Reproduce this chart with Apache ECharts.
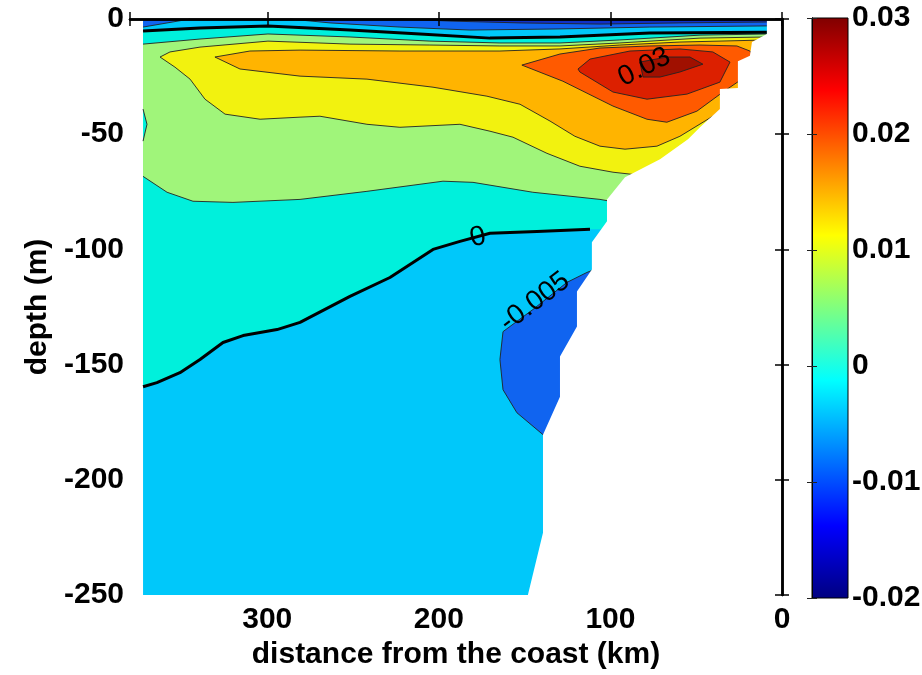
<!DOCTYPE html>
<html><head><meta charset="utf-8">
<script src="https://cdn.jsdelivr.net/npm/echarts@6/dist/echarts.min.js"></script>
<style>html,body{margin:0;padding:0;background:#fff}#c{width:922px;height:675px}</style>
</head><body><div id="c"></div>
<script>
// ---- tick labels ----
const xTicks = [0, 100, 200, 300];
const yTicks = [0, -50, -100, -150, -200, -250];
const cbTicks = [-0.02, -0.01, 0, 0.01, 0.02, 0.03];

// ---- section geometry: [distance from coast (km), depth (m)] ----
const westEdge = 372.4;
const shelf = [[8.8,0],[8.8,-6.5],[17.5,-10],[18.7,-16],[25.7,-18.3],[25.7,-30],[36.2,-30.4],[36.2,-39.1],[47.8,-47],[54.8,-52.2],[71.1,-60.9],[91.5,-68.7],[102,-78.3],[102,-87.8],[110.8,-96.9],[110.8,-108.7],[119.5,-118.3],[119.5,-133.5],[129.4,-146.5],[129.4,-163.9],[139.3,-180.4],[139.3,-223],[148.1,-250]];

// ---- contour lines ----
const zeroSurface = [[372.4,-5.2],[339.2,-3.9],[299.6,-3.0],[251.8,-4.8],[211.0,-6.5],[170.2,-8.3],[129.4,-7.8],[77.0,-6.1],[8.8,-5.7]];
const zeroDeep = [[372.4,-159.6],[364.3,-157.8],[350.9,-153.5],[339.2,-147.8],[325.8,-140.4],[314.1,-137.4],[294.3,-134.8],[280.9,-131.7],[251.8,-120.4],[228.5,-112.2],[203.4,-100.0],[187.7,-96.5],[170.2,-93.0],[142.8,-92.2],[111.9,-91.3]];
const p005Upper = [[372.4,-10.9],[339.2,-8.7],[299.6,-6.5],[251.8,-7.8],[205.2,-9.6],[164.4,-10.4],[129.4,-10.4],[94.5,-9.1],[47.8,-7.0],[8.8,-6.5]];
const p005Lower = [[372.4,-68.3],[358.4,-75.2],[343.3,-79.1],[320.0,-79.6],[280.9,-78.3],[241.9,-74.8],[197.6,-70.4],[180.1,-70.9],[145.2,-75.2],[106.1,-78.3],[100.0,-79.1]];
const p005Patch = [[372.4,-39.1],[370.1,-45.7],[372.4,-53.0]];
const p010Upper = [[362.5,-16.5],[356.7,-14.3],[339.2,-12.2],[299.6,-9.6],[251.8,-10.9],[205.2,-11.3],[164.4,-11.7],[129.4,-11.7],[94.5,-10.4],[47.8,-8.3],[8.8,-7.8]];
const p010Lower = [[362.5,-16.5],[353.8,-20.9],[345.0,-26.1],[336.3,-34.8],[324.6,-41.3],[304.2,-43.5],[280.9,-42.6],[269.3,-42.2],[241.9,-45.7],[222.7,-47.0],[187.7,-45.7],[170.2,-48.7],[156.8,-51.3],[137.0,-58.3],[117.8,-63.9],[98.5,-66.5],[82.8,-67.8]];
const p015Upper = [[330.5,-16.5],[310.1,-13.9],[280.9,-13.5],[222.7,-13.9],[164.4,-13.9],[129.4,-13.0],[94.5,-11.3],[59.5,-10.0],[8.8,-9.1]];
const p015Lower = [[330.5,-16.5],[315.9,-21.7],[280.9,-24.8],[241.9,-26.1],[203.4,-29.6],[172.0,-33.5],[152.7,-37.0],[135.2,-44.3],[120.7,-50.9],[106.1,-55.2],[91.5,-56.5],[72.9,-55.2],[59.5,-50.9],[40.3,-42.2],[27.4,-34.8]];
const p020Loop = [[151.6,-20.0],[129.4,-15.2],[106.1,-12.6],[77.0,-11.7],[47.8,-11.3],[26.3,-11.7],[18.7,-13.9],[12.9,-19.6],[21.6,-25.2],[34.4,-31.7],[49.6,-40.0],[67.1,-44.8],[78.7,-43.5],[98.5,-37.8],[127.7,-27.0]];
const p025Loop = [[118.9,-21.7],[111.9,-17.4],[88.6,-13.9],[59.5,-13.0],[40.3,-14.3],[30.3,-18.7],[36.2,-27.4],[55.4,-32.6],[78.7,-34.8],[98.5,-31.7],[117.8,-23.0]];
const p030Loop = [[82.8,-18.7],[67.1,-16.5],[53.7,-16.5],[46.1,-19.6],[59.5,-23.0],[71.1,-25.2],[81.0,-25.2]];
const m005SurfaceWest = [[372.4,-3.5],[345.0,0]];
const m005Surface = [[286.8,0],[263.4,-1.7],[222.7,-3.5],[181.9,-4.8],[129.4,-4.3],[77.0,-3.5],[8.8,-3.0]];
const m010Surface = [[222.7,0],[193.5,-0.9],[152.7,-1.7],[106.1,-2.2],[59.5,-1.7],[8.8,-1.3]];
const m005Deep = [[106.1,-107.8],[113.7,-110.0],[125.3,-114.3],[145.2,-126.1],[162.6,-135.7],[164.4,-147.8],[162.6,-160.9],[154.5,-170.9],[139.3,-180.4],[132.3,-184.8]];

// ---- contour labels: text, km, depth, angle(deg) ----
const labelText = ['0.03', '0', '-0.005'];
const labelKm = [80.2, 177.2, 144.0];
const labelDepth = [-20.9, -94.8, -122.8];
const labelAngle = [27, 14, 37];

// ---- band colours (filled with the colour of the lower level) ----
const COL = {
  m015: '#1030c8', m010: '#1064f0', m005: '#00c8fa', z0: '#00f0dc',
  p005: '#a0f57a', p010: '#f2f20f', p015: '#ffb400', p020: '#ff5a00',
  p025: '#dc2000', p030: '#a01000'
};

const last = a => a[a.length - 1];
const band = (up, lo) => up.concat([[0, last(up)[1]], [0, last(lo)[1]]], lo.slice().reverse());
const toTop = line => line.concat([[0, last(line)[1]], [0, 0]]);

const fills = [
  {pts: [[westEdge,0],[0,0],[0,-250],[westEdge,-250]], color: COL.m005},
  {pts: band(zeroSurface, zeroDeep), color: COL.z0},
  {pts: band(p005Upper, p005Lower), color: COL.p005},
  {pts: p005Patch, color: COL.z0},
  {pts: band(p010Upper, p010Lower), color: COL.p010},
  {pts: band(p015Upper, p015Lower), color: COL.p015},
  {pts: p020Loop, color: COL.p020},
  {pts: p025Loop, color: COL.p025},
  {pts: p030Loop, color: COL.p030},
  {pts: [[westEdge,0]].concat(m005SurfaceWest), color: COL.m010},
  {pts: toTop(m005Surface), color: COL.m010},
  {pts: m005Deep.concat([[0,last(m005Deep)[1]],[0,m005Deep[0][1]]]), color: COL.m010},
  {pts: toTop(m010Surface), color: COL.m015}
];
const thinLines = [p005Upper, p005Lower, p005Patch, p010Upper, p010Lower, p015Upper, p015Lower,
  p020Loop.concat([p020Loop[0]]), p025Loop.concat([p025Loop[0]]), p030Loop.concat([p030Loop[0]]),
  m005SurfaceWest, m005Surface, m010Surface, m005Deep];
const thickLines = [zeroSurface, zeroDeep];
const land = shelf.concat([[0,-250],[0,0]]);

const FONT = '"Liberation Sans", Arial, Helvetica, sans-serif';
const chart = echarts.init(document.getElementById('c'), null, {renderer: 'canvas'});

const boxAxis = {
  axisLine: {show: true, lineStyle: {color: '#000', width: 2.5}},
  axisTick: {show: true, inside: true, length: 7, lineStyle: {color: '#000', width: 1.5}},
  splitLine: {show: false}, z: 10
};

chart.setOption({
  animation: false,
  backgroundColor: '#fff',
  grid: [
    {left: 130, right: 140, top: 19, bottom: 80, containLabel: false, outerBoundsMode: 'none'},
    {left: 812, right: 74, top: 18, bottom: 77, containLabel: false, outerBoundsMode: 'none'}
  ],
  xAxis: [
    Object.assign({}, boxAxis, {
      gridIndex: 0, type: 'value', min: 0, max: 380, interval: 100, inverse: true, position: 'bottom',
      axisLabel: {show: true, color: '#000', fontSize: 30, fontWeight: 'bold', fontFamily: FONT, margin: 10,
        formatter: v => xTicks.indexOf(v) >= 0 ? String(v) : ''},
      name: 'distance from the coast (km)', nameLocation: 'middle', nameGap: 33,
      nameTextStyle: {color: '#000', fontSize: 30, fontWeight: 'bold', fontFamily: FONT}
    }),
    Object.assign({}, boxAxis, {
      gridIndex: 0, type: 'value', min: 0, max: 380, interval: 100, inverse: true, position: 'top',
      axisLabel: {show: false}
    }),
    {gridIndex: 1, type: 'value', min: 0, max: 1, show: false}
  ],
  yAxis: [
    Object.assign({}, boxAxis, {
      gridIndex: 0, type: 'value', min: -250, max: 0, interval: 50, position: 'left',
      axisLabel: {show: true, color: '#000', fontSize: 30, fontWeight: 'bold', fontFamily: FONT, margin: 6,
        formatter: v => yTicks.indexOf(v) >= 0 ? String(v) : ''},
      name: 'depth (m)', nameLocation: 'middle', nameGap: 68, nameRotate: 90,
      nameTextStyle: {color: '#000', fontSize: 30, fontWeight: 'bold', fontFamily: FONT}
    }),
    Object.assign({}, boxAxis, {
      gridIndex: 0, type: 'value', min: -250, max: 0, interval: 50, position: 'right',
      axisLabel: {show: false}
    }),
    {
      gridIndex: 1, type: 'value', min: -0.02, max: 0.03, interval: 0.01, position: 'right', z: 10,
      axisLine: {show: true, lineStyle: {color: '#000', width: 1}},
      axisTick: {show: true, inside: true, length: 5, lineStyle: {color: '#222', width: 1}},
      splitLine: {show: false},
      axisLabel: {show: true, color: '#000', fontSize: 30, fontWeight: 'bold', fontFamily: FONT, margin: 4,
        formatter: v => String(+(+v).toFixed(3))}
    },
    {
      gridIndex: 1, type: 'value', min: -0.02, max: 0.03, interval: 0.01, position: 'left', z: 10,
      axisLine: {show: true, lineStyle: {color: '#000', width: 1}},
      axisTick: {show: true, inside: true, length: 5, lineStyle: {color: '#222', width: 1}},
      splitLine: {show: false}, axisLabel: {show: false}
    }
  ],
  series: [
    {
      type: 'custom', coordinateSystem: 'cartesian2d', xAxisIndex: 0, yAxisIndex: 0,
      data: [[0, 0]], silent: true, z: 2,
      renderItem: (params, api) => {
        const P = pts => pts.map(p => api.coord(p));
        const children = [];
        fills.forEach(f => children.push({type: 'polygon', shape: {points: P(f.pts)}, style: {fill: f.color, stroke: null}}));
        thinLines.forEach(l => children.push({type: 'polyline', shape: {points: P(l)}, style: {stroke: '#222', lineWidth: 0.9, fill: null}}));
        thickLines.forEach(l => children.push({type: 'polyline', shape: {points: P(l)}, style: {stroke: '#000', lineWidth: 3, fill: null, lineJoin: 'round'}}));
        children.push({type: 'polygon', shape: {points: P(land)}, style: {fill: '#fff', stroke: null}});
        labelText.forEach((t, i) => {
          const c = api.coord([labelKm[i], labelDepth[i]]);
          children.push({type: 'text', x: c[0], y: c[1], rotation: labelAngle[i] * Math.PI / 180,
            style: {text: t, fontSize: 28, fontFamily: FONT, fontWeight: 'normal', fill: '#000', align: 'center', verticalAlign: 'middle'}});
        });
        return {type: 'group', children};
      }
    },
    {
      type: 'custom', coordinateSystem: 'cartesian2d', xAxisIndex: 2, yAxisIndex: 2,
      data: [[0, 0]], silent: true, z: 2,
      renderItem: (params, api) => {
        const a = api.coord([0, last(cbTicks)]);
        const b = api.coord([1, cbTicks[0]]);
        return {type: 'rect', shape: {x: a[0], y: a[1], width: b[0] - a[0], height: b[1] - a[1]},
          style: {fill: {type: 'linear', x: 0, y: 0, x2: 0, y2: 1, colorStops: [
            {offset: 0, color: '#800000'}, {offset: 0.125, color: '#ff0000'}, {offset: 0.375, color: '#ffff00'},
            {offset: 0.625, color: '#00ffff'}, {offset: 0.875, color: '#0000ff'}, {offset: 1, color: '#000080'}]},
            stroke: '#000', lineWidth: 1}};
      }
    }
  ]
});
</script></body></html>
